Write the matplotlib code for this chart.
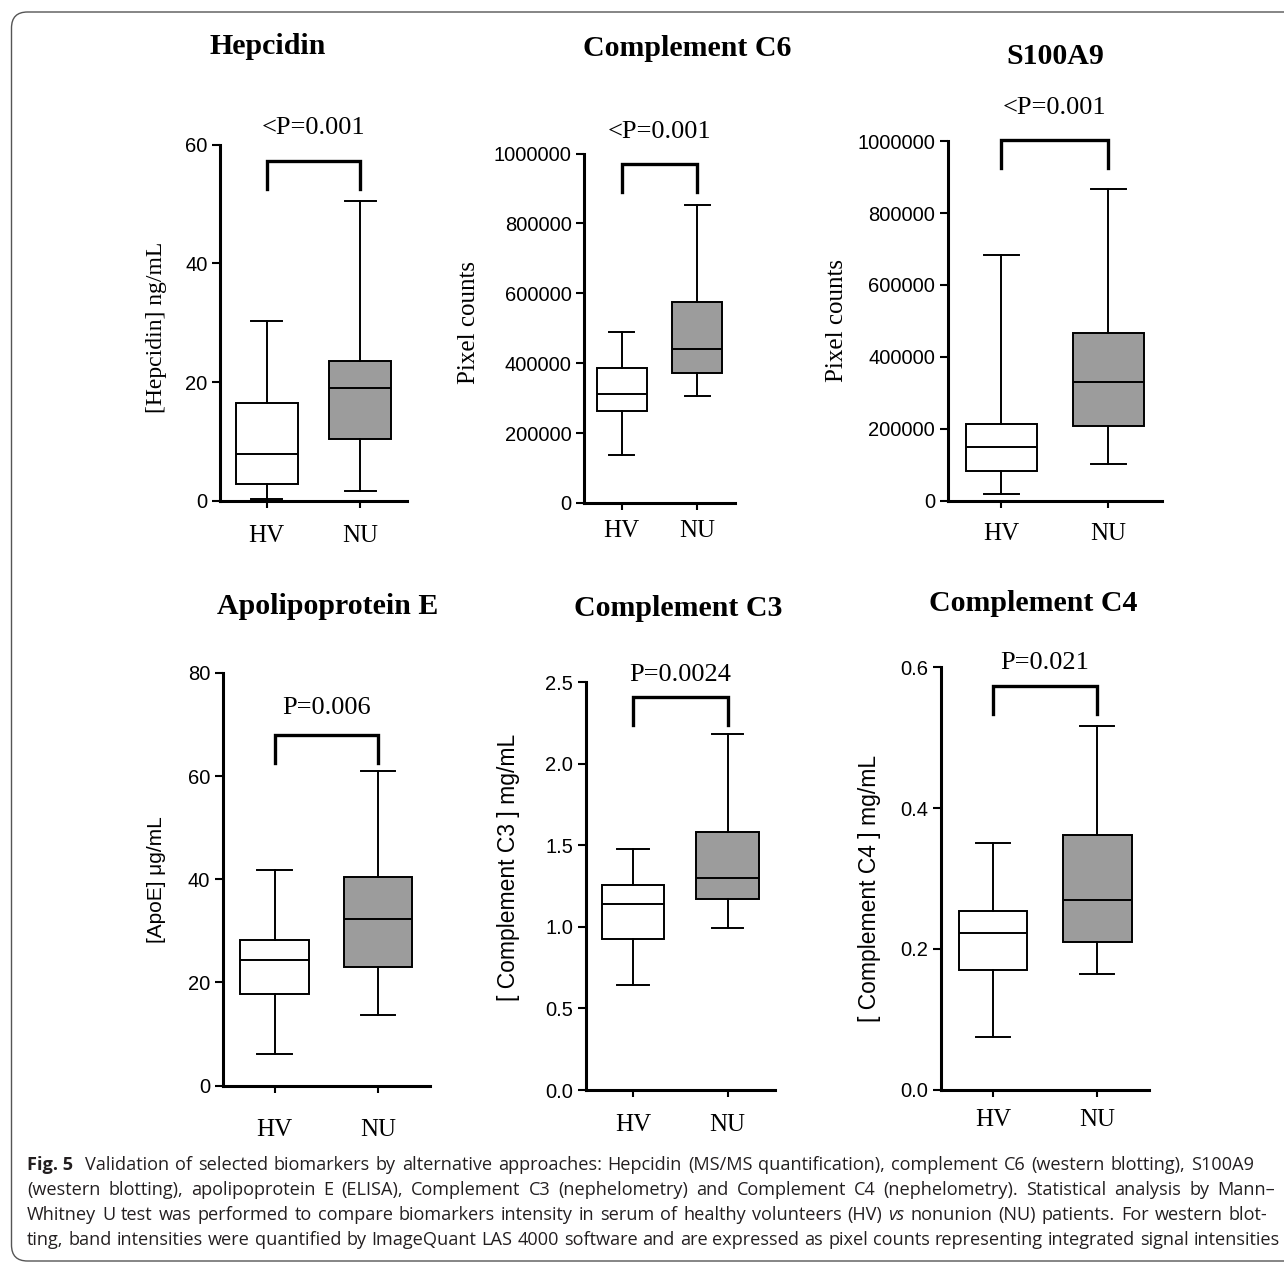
import matplotlib
matplotlib.use('Agg')
import matplotlib.pyplot as plt
from matplotlib.patches import FancyBboxPatch
from matplotlib.ticker import FormatStrFormatter

# ---- data -------------------------------------------------------------
groups = ['HV', 'NU']
titles = ['Hepcidin', 'Complement C6', 'S100A9',
          'Apolipoprotein E', 'Complement C3', 'Complement C4']
p_labels = ['<P=0.001', '<P=0.001', '<P=0.001', 'P=0.006', 'P=0.0024', 'P=0.021']
ylabels = ['[Hepcidin] ng/mL', 'Pixel counts', 'Pixel counts',
           '[ApoE] μg/mL', '[ Complement C3 ] mg/mL', '[ Complement C4 ] mg/mL']

# whisker low, Q1, median, Q3, whisker high
hepcidin_hv = [0.3, 2.8, 7.9, 16.5, 30.3]
hepcidin_nu = [1.6, 10.5, 19.1, 23.6, 50.5]
c6_hv = [136000, 262000, 313000, 385000, 489000]
c6_nu = [307000, 372000, 440000, 576000, 854000]
s100a9_hv = [17900, 83400, 148000, 213500, 683000]
s100a9_nu = [101000, 208500, 331000, 466000, 868000]
apoe_hv = [6.2, 17.8, 24.3, 28.3, 41.8]
apoe_nu = [13.7, 22.9, 32.2, 40.4, 60.9]
c3_hv = [0.641, 0.926, 1.140, 1.260, 1.479]
c3_nu = [0.991, 1.171, 1.300, 1.581, 2.180]
c4_hv = [0.075, 0.170, 0.222, 0.254, 0.350]
c4_nu = [0.165, 0.210, 0.270, 0.361, 0.516]

y_ticks = [
    [0, 20, 40, 60],
    [0, 200000, 400000, 600000, 800000, 1000000],
    [0, 200000, 400000, 600000, 800000, 1000000],
    [0, 20, 40, 60, 80],
    [0.0, 0.5, 1.0, 1.5, 2.0, 2.5],
    [0.0, 0.2, 0.4, 0.6],
]
tick_fmt = ['%d', '%d', '%d', '%d', '%.1f', '%.1f']

# significance bracket (top, leg end) and p-label baseline, in data units
bracket_top = [57.3, 971000, 1002000, 68.0, 2.408, 0.574]
bracket_leg = [52.5, 891000, 925500, 62.5, 2.240, 0.534]
p_y = [61.8, 1046000, 1076500, 72.0, 2.511, 0.597]

caption_lines = [
    [('Fig. 5', 'bold', 'normal', 2.0), 'Validation of selected biomarkers by alternative approaches: Hepcidin '
     '(MS/MS quantification), complement C6 (western blotting), S100A9'],
    ['(western blotting), apolipoprotein E (ELISA), Complement C3 (nephelometry) and Complement C4 '
     '(nephelometry). Statistical analysis by Mann–'],
    ['Whitney U test was performed to compare biomarkers intensity in serum of healthy volunteers (HV)',
     ('vs', 'normal', 'italic', 1.0),
     'nonunion (NU) patients. For western blot-'],
    ['ting, band intensities were quantified by ImageQuant LAS 4000 software and are expressed as pixel '
     'counts representing integrated signal intensities'],
]

# ---- layout (pixels) ------------------------------------------------
W, H = 1284, 1263
axes_px = [(220, 144.6, 407, 501), (584, 153.6, 735, 502.9), (947.7, 141.1, 1161.7, 500.7),
           (222.7, 672.9, 430, 1085.6), (585.7, 682.3, 775, 1090), (941, 667.2, 1149.3, 1089.7)]
title_px = [(268, 54.3), (687, 56), (1055, 63.6), (327.5, 614.5), (678, 615.7), (1033, 610.8)]
ylabel_px = [(156.7, 327.7), (469.3, 322), (836.7, 321), (156.7, 880), (508.3, 867.6), (869.3, 888)]
ylabel_font = ['serif', 'serif', 'serif', 'sans', 'sans', 'sans']
ylabel_size = [17, 18, 18, 15, 16.5, 16.5]
xpad = [12, 7, 11, 19, 12, 9]

SERIF = 'Liberation Serif'
SANS = 'Liberation Sans'
NU_GRAY = '#9c9c9c'

boxes = [(hepcidin_hv, hepcidin_nu), (c6_hv, c6_nu), (s100a9_hv, s100a9_nu),
         (apoe_hv, apoe_nu), (c3_hv, c3_nu), (c4_hv, c4_nu)]

fig = plt.figure(figsize=(W / 100, H / 100), dpi=100)

for i in range(6):
    l, t, r, b = axes_px[i]
    ax = fig.add_axes([l / W, 1 - b / H, (r - l) / W, (b - t) / H])

    stats = []
    for name, v in zip(groups, boxes[i]):
        stats.append(dict(label=name, whislo=v[0], q1=v[1], med=v[2], q3=v[3], whishi=v[4]))
    bp = ax.bxp(stats, positions=[0, 1], widths=0.66, capwidths=0.33,
                patch_artist=True, showfliers=False,
                boxprops=dict(edgecolor='black', linewidth=1.4),
                whiskerprops=dict(color='black', linewidth=1.4),
                capprops=dict(color='black', linewidth=1.4),
                medianprops=dict(color='black', linewidth=1.4))
    bp['boxes'][0].set_facecolor('white')
    bp['boxes'][1].set_facecolor(NU_GRAY)

    ax.set_xlim(-0.5, 1.5)
    ax.set_ylim(0, y_ticks[i][-1])
    ax.set_yticks(y_ticks[i])
    ax.yaxis.set_major_formatter(FormatStrFormatter(tick_fmt[i]))
    ax.set_xticks([0, 1], groups)

    for s in ['top', 'right']:
        ax.spines[s].set_visible(False)
    for s in ['left', 'bottom']:
        ax.spines[s].set_linewidth(2.2)
    ax.tick_params(axis='y', direction='out', length=6, width=1.5, pad=3,
                   labelsize=14.5)
    ax.tick_params(axis='x', direction='out', length=5, width=1.5, pad=xpad[i],
                   labelsize=18)
    for lab in ax.get_yticklabels():
        lab.set_fontfamily(SANS)
    for lab in ax.get_xticklabels():
        lab.set_fontfamily(SERIF)

    # significance bracket
    ax.plot([0, 0, 1, 1], [bracket_leg[i], bracket_top[i], bracket_top[i], bracket_leg[i]],
            color='black', linewidth=2.4, clip_on=False, solid_joinstyle='miter')
    ax.text(0.5, p_y[i], p_labels[i], ha='center', va='baseline',
            fontsize=19, family=SERIF)

    tx, ty = title_px[i]
    fig.text(tx / W, 1 - ty / H, titles[i], ha='center', va='baseline',
             fontsize=21.5, fontweight='bold', family=SERIF)

    lx, ly = ylabel_px[i]
    fig.text(lx / W, 1 - ly / H, ylabels[i], rotation=90, ha='center', va='center',
             fontsize=ylabel_size[i], family=SERIF if ylabel_font[i] == 'serif' else SANS)

# ---- frame ------------------------------------------------------------
frame = FancyBboxPatch((11.5 / 100, 2 / 100), 13.0, (1261 - 12) / 100,
                       boxstyle='round,pad=0,rounding_size=0.16',
                       transform=fig.dpi_scale_trans, facecolor='none',
                       edgecolor='#555555', linewidth=1.0)
fig.add_artist(frame)

# ---- caption (justified word by word) --------------------------------
CAP_FONT = ['Open Sans', 'DejaVu Sans']
cap_size = 13.1
cap_left = 27
cap_right = [1254, 1275, 1267, 1280]
cap_base = [1170, 1195, 1220, 1245]
renderer = fig.canvas.get_renderer()

for li, line in enumerate(caption_lines):
    tokens = []
    for piece in line:
        if isinstance(piece, tuple):
            tokens.append(piece)
        else:
            for w in piece.split(' '):
                tokens.append((w, 'normal', 'normal', 1.0))
    arts = []
    total = 0
    for text, weight, style, gap in tokens:
        a = fig.text(0, 1 - cap_base[li] / H, text, ha='left', va='baseline',
                     fontsize=cap_size, fontweight=weight, fontstyle=style,
                     family=CAP_FONT, color='#231f20')
        wpx = a.get_window_extent(renderer).width
        arts.append((a, wpx, gap))
        total += wpx
    gap_units = sum(g for _, _, g in arts[:-1])
    unit = (cap_right[li] - cap_left - total) / gap_units
    x = cap_left
    for a, wpx, gap in arts:
        a.set_x(x / W)
        x += wpx + gap * unit

fig.savefig('out.png', dpi=100)
